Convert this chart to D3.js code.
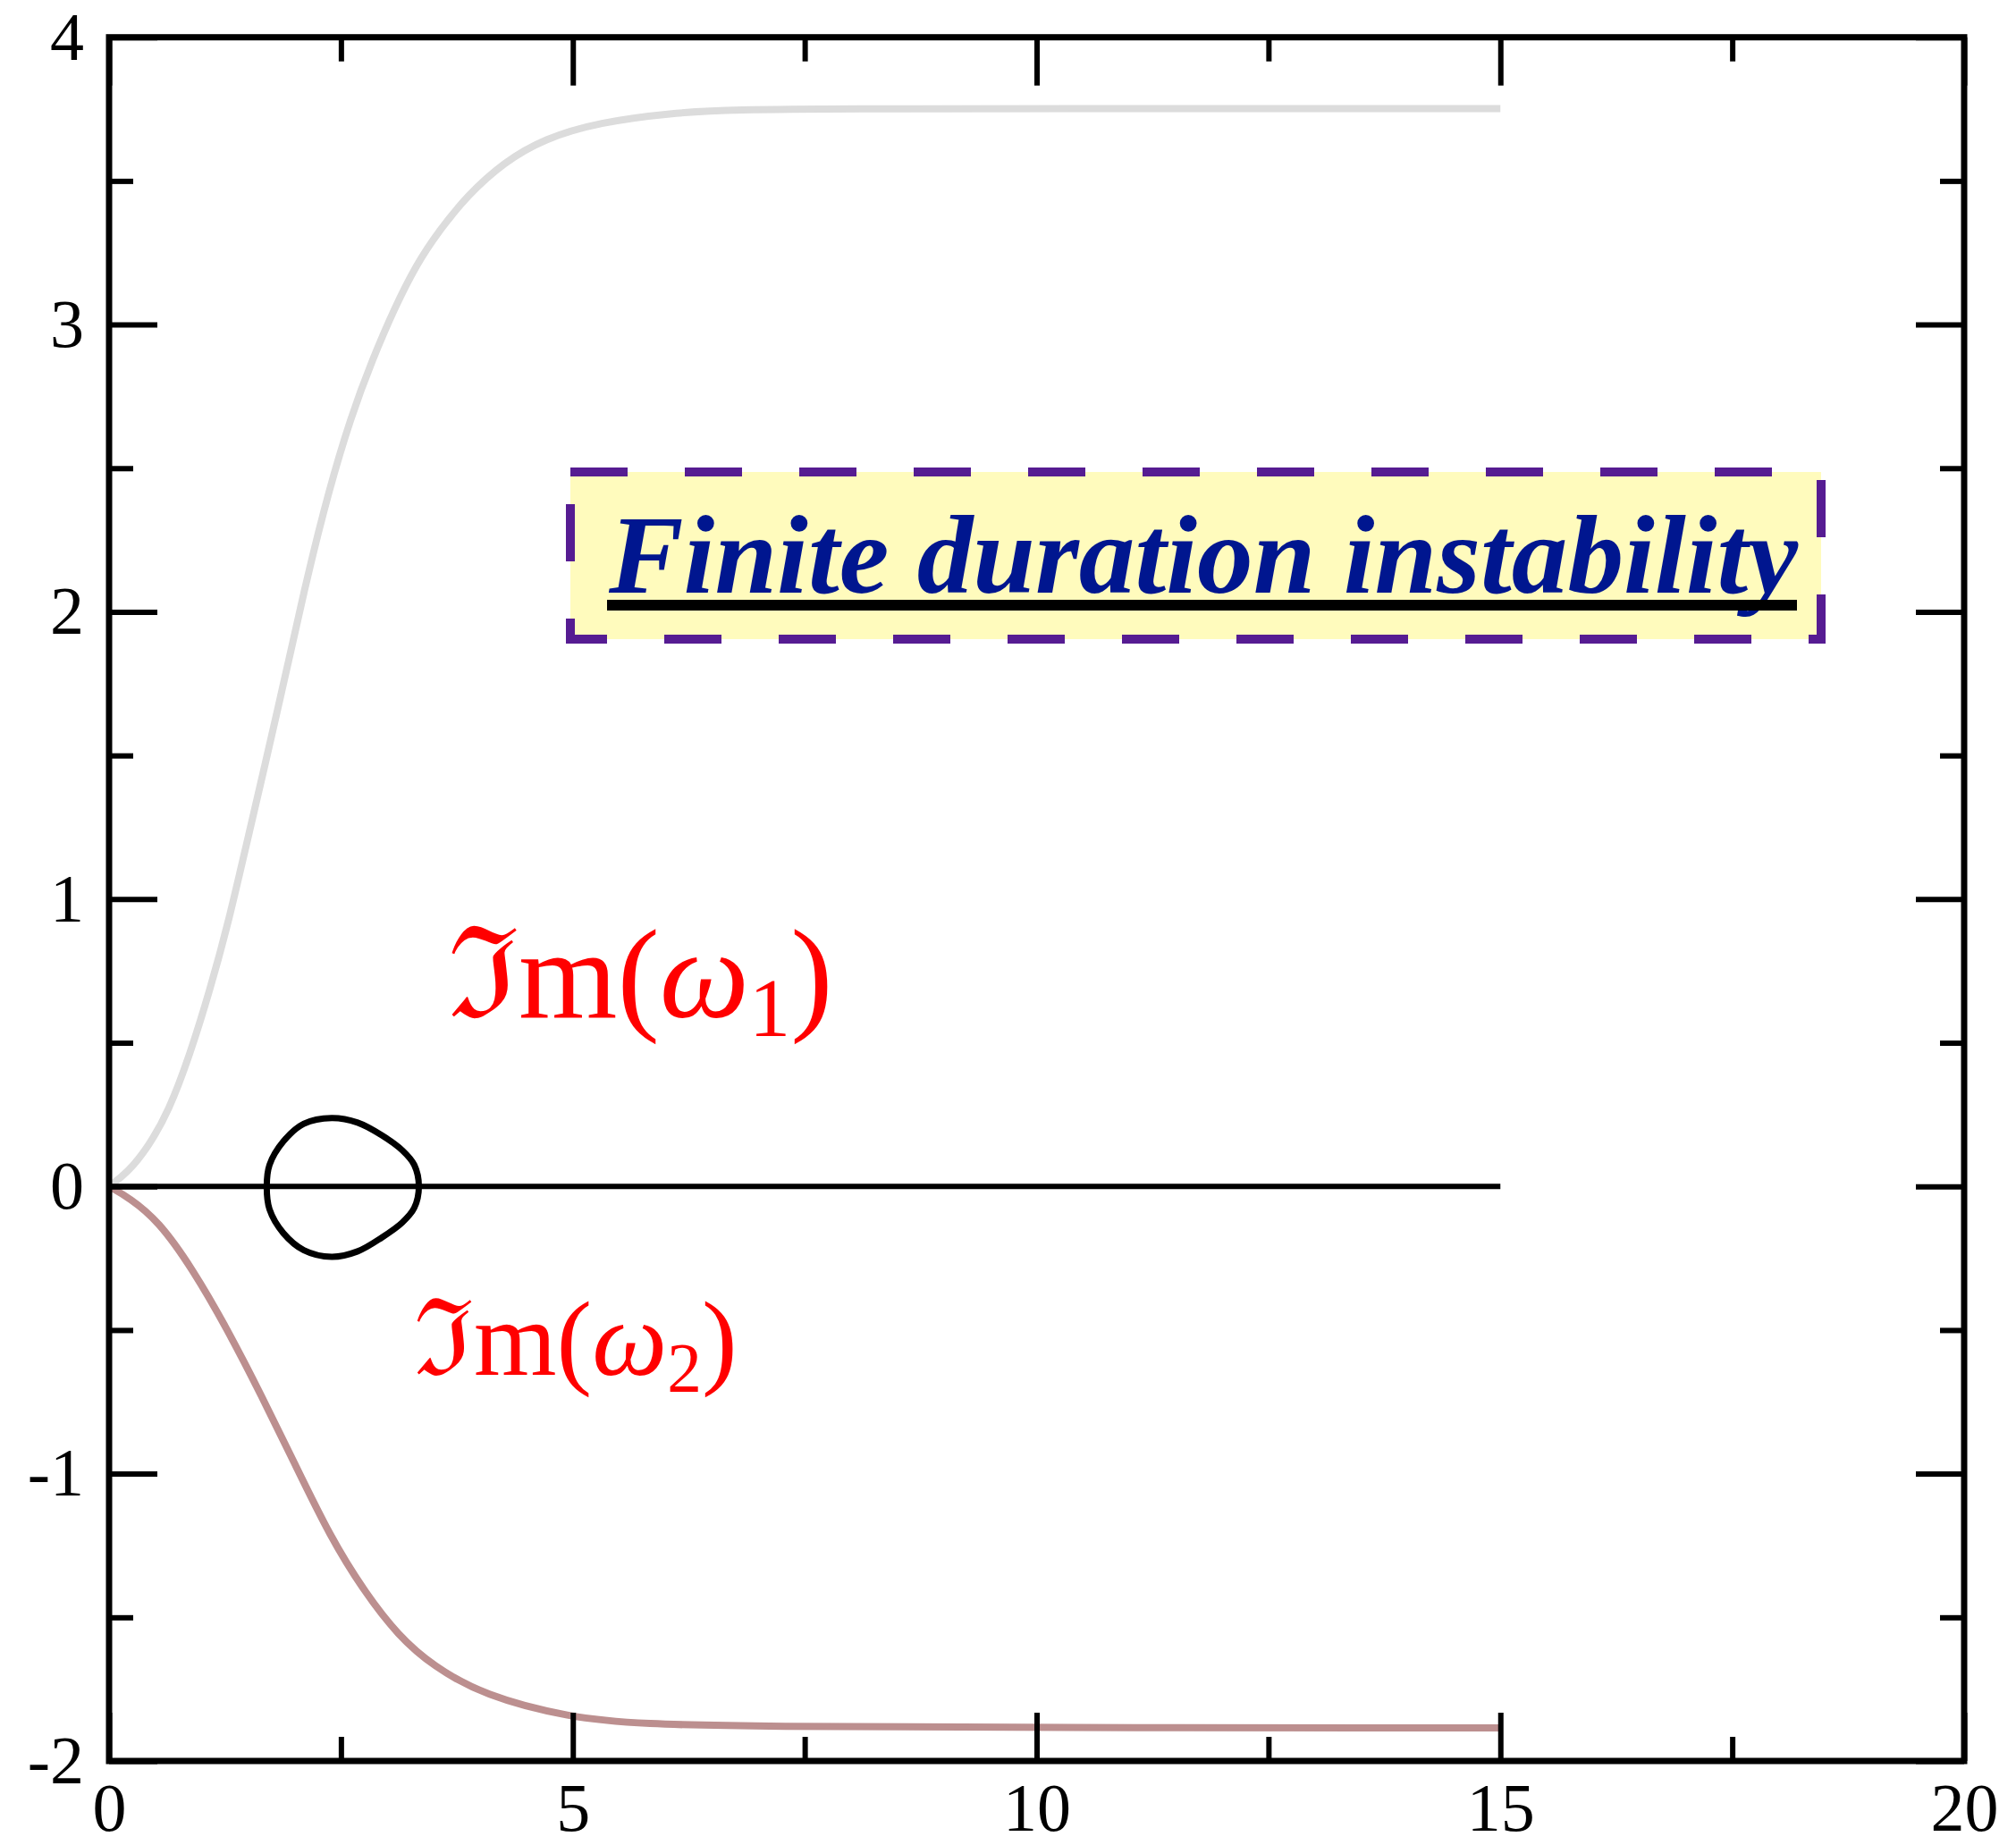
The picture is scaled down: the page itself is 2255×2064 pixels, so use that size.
<!DOCTYPE html>
<html>
<head>
<meta charset="utf-8">
<script src="https://cdn.jsdelivr.net/npm/d3@7"></script>
<style>
  body { margin: 0; background: #fff; }
</style>
</head>
<body>
<div class="chart"></div>
<script>
const width = 2255, height = 2064;

// tick values
const xTicks = [0, 5, 10, 15, 20];
const xMinor = [2.5, 7.5, 12.5, 17.5];
const yTicks = [-2, -1, 0, 1, 2, 3, 4];
const yMinor = [-1.5, -0.5, 0.5, 1.5, 2.5, 3.5];

// Im(w1) - light grey curve
const grayX = [0, 0.2, 0.42, 0.645, 0.866, 1.087, 1.30, 1.48, 1.665, 1.935, 2.133, 2.369, 2.604, 2.84, 3.077, 3.313, 3.549, 3.864, 4.257, 4.69, 5.28, 6.066, 6.728, 8, 10, 15];
const grayY = [0, 0.048, 0.136, 0.263, 0.453, 0.682, 0.936, 1.19, 1.444, 1.827, 2.117, 2.422, 2.676, 2.879, 3.057, 3.209, 3.323, 3.45, 3.565, 3.647, 3.704, 3.737, 3.748, 3.751, 3.752, 3.752];

// Im(w2) - rosy brown curve
const brownX = [0, 0.22, 0.53, 0.9, 1.27, 1.64, 2.01, 2.38, 2.75, 3.12, 3.49, 4.04, 4.96, 5.76, 7, 10, 15];
const brownY = [0, -0.04, -0.119, -0.287, -0.494, -0.726, -0.971, -1.217, -1.41, -1.565, -1.669, -1.772, -1.849, -1.872, -1.88, -1.884, -1.885];

// zero line
const zeroX = [0, 15];
const zeroY = [0, 0];

// closed loop
const loopX = [3.34, 3.29, 3.16, 2.94, 2.68, 2.40, 2.10, 1.88, 1.73, 1.70, 1.73, 1.88, 2.10, 2.40, 2.68, 2.94, 3.16, 3.29];
const loopY = [0, 0.075, 0.126, 0.178, 0.222, 0.238, 0.218, 0.157, 0.075, 0, -0.08, -0.163, -0.222, -0.245, -0.226, -0.178, -0.126, -0.075];

const svg = d3.select(".chart")
    .append("svg")
    .attr("width", width)
    .attr("height", height)
    .attr("viewBox", [0, 0, width, height]);

const x = d3.scaleLinear().domain([0, 20]).range([122, 2197]);
const y = d3.scaleLinear().domain([-2, 4]).range([1970, 41.7]);

const line = d3.line()
    .x(d => x(d[0]))
    .y(d => y(d[1]))
    .curve(d3.curveBasis);

// text box
const box = svg.append("g");
box.append("rect")
    .attr("x", 638).attr("y", 528)
    .attr("width", 1399).attr("height", 187)
    .attr("fill", "#fffbbd")
    .attr("stroke", "#561c92")
    .attr("stroke-width", 10)
    .attr("stroke-dasharray", "64,64");
box.append("text")
    .attr("x", 681).attr("y", 663)
    .attr("font-family", "Liberation Serif, Times New Roman, serif")
    .attr("font-weight", "bold")
    .attr("font-style", "italic")
    .attr("font-size", 124)
    .attr("fill", "#00168f")
    .attr("textLength", 1330)
    .attr("lengthAdjust", "spacingAndGlyphs")
    .text("Finite duration instability");
box.append("line")
    .attr("x1", 679).attr("x2", 2010)
    .attr("y1", 677).attr("y2", 677)
    .attr("stroke", "#000")
    .attr("stroke-width", 12);

// curves
svg.append("path")
    .datum(d3.zip(grayX, grayY))
    .attr("d", line)
    .attr("fill", "none")
    .attr("stroke", "#dcdcdc")
    .attr("stroke-width", 8);

svg.append("path")
    .datum(d3.zip(brownX, brownY))
    .attr("d", line)
    .attr("fill", "none")
    .attr("stroke", "#bc8f8f")
    .attr("stroke-width", 8);

svg.append("path")
    .datum(d3.zip(zeroX, zeroY))
    .attr("d", d3.line().x(d => x(d[0])).y(d => y(d[1])))
    .attr("fill", "none")
    .attr("stroke", "#000")
    .attr("stroke-width", 6);

svg.append("path")
    .datum(d3.zip(loopX, loopY))
    .attr("d", d3.line().x(d => x(d[0])).y(d => y(d[1])).curve(d3.curveCatmullRomClosed))
    .attr("fill", "none")
    .attr("stroke", "#000")
    .attr("stroke-width", 7);

// labels
function omegaLabel(px, py, size, sub) {
    const t = svg.append("text")
        .attr("x", px).attr("y", py)
        .attr("font-family", "Liberation Serif, DejaVu Serif, serif")
        .attr("font-size", size)
        .attr("fill", "#ff0000");
    t.append("tspan").text("\u2111m(");
    t.append("tspan").attr("font-style", "italic").text("\u03c9");
    t.append("tspan").attr("font-size", size * 0.65).attr("dy", size * 0.15).text(sub);
    t.append("tspan").attr("dy", -size * 0.15).text(")");
}
omegaLabel(501, 1138, 142, "1");
omegaLabel(463, 1538, 119, "2");

// axes
const tickFont = "Liberation Serif, Times New Roman, serif";
function styleAxis(g, w) {
    g.select(".domain").remove();
    g.selectAll("line").attr("stroke", "#000").attr("stroke-width", w);
    g.selectAll("text")
        .attr("font-family", tickFont)
        .attr("font-size", 76)
        .attr("fill", "#000");
}

svg.append("g")
    .attr("transform", `translate(0,${y(-2)})`)
    .call(d3.axisBottom(x).tickValues(xTicks).tickSize(-54).tickPadding(24).tickFormat(d => String(d)))
    .call(g => styleAxis(g, 6));
svg.append("g")
    .attr("transform", `translate(0,${y(-2)})`)
    .call(d3.axisBottom(x).tickValues(xMinor).tickSize(-27).tickFormat(""))
    .call(g => styleAxis(g, 6));
svg.append("g")
    .attr("transform", `translate(0,${y(4)})`)
    .call(d3.axisTop(x).tickValues(xTicks).tickSize(-54).tickFormat(""))
    .call(g => styleAxis(g, 6));
svg.append("g")
    .attr("transform", `translate(0,${y(4)})`)
    .call(d3.axisTop(x).tickValues(xMinor).tickSize(-27).tickFormat(""))
    .call(g => styleAxis(g, 6));

svg.append("g")
    .attr("transform", `translate(${x(0)},0)`)
    .call(d3.axisLeft(y).tickValues(yTicks).tickSize(-54).tickPadding(28).tickFormat(d => String(d)))
    .call(g => styleAxis(g, 6));
svg.append("g")
    .attr("transform", `translate(${x(0)},0)`)
    .call(d3.axisLeft(y).tickValues(yMinor).tickSize(-27).tickFormat(""))
    .call(g => styleAxis(g, 6));
svg.append("g")
    .attr("transform", `translate(${x(20)},0)`)
    .call(d3.axisRight(y).tickValues(yTicks).tickSize(-54).tickFormat(""))
    .call(g => styleAxis(g, 6));
svg.append("g")
    .attr("transform", `translate(${x(20)},0)`)
    .call(d3.axisRight(y).tickValues(yMinor).tickSize(-27).tickFormat(""))
    .call(g => styleAxis(g, 6));

// frame
svg.append("rect")
    .attr("x", x(0)).attr("y", y(4))
    .attr("width", x(20) - x(0)).attr("height", y(-2) - y(4))
    .attr("fill", "none")
    .attr("stroke", "#000")
    .attr("stroke-width", 7);
</script>
</body>
</html>
